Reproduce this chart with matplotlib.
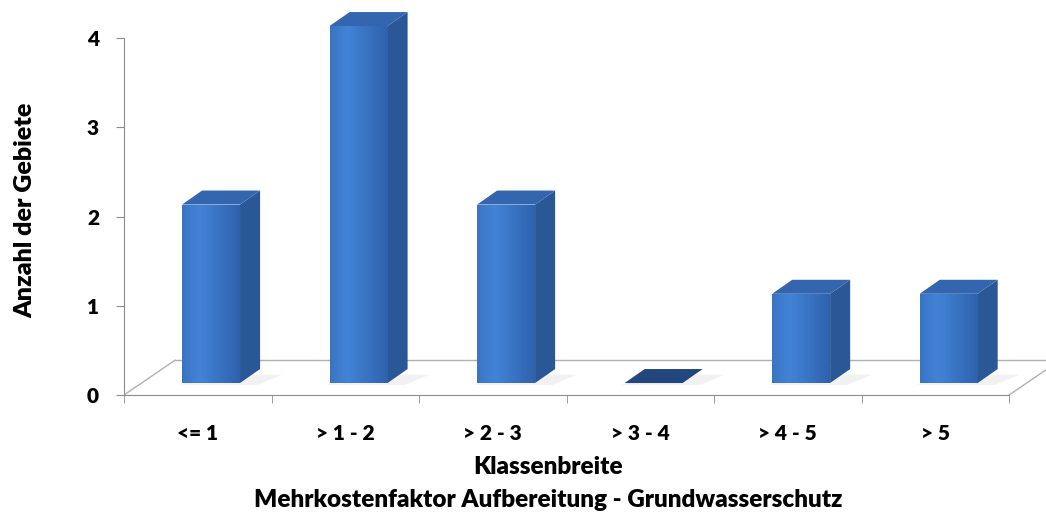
import numpy as np
import matplotlib.pyplot as plt
from matplotlib.patches import Polygon

# Chart data
categories = ["<= 1", "> 1 - 2", "> 2 - 3", "> 3 - 4", "> 4 - 5", "> 5"]
counts = [2, 4, 2, 0, 1, 1]

plt.rcParams['font.family'] = ['Lato', 'DejaVu Sans']

fig = plt.figure(figsize=(10.46, 5.2), dpi=100)
# axes placed so that y=0 sits on the front edge of the floor
ax = fig.add_axes([124 / 1046, 125 / 520, 922 / 1046, 395 / 520])
ax.set_xlim(-0.5, 5.75)
ax.set_ylim(0, 4.426)

# 3D look: floor depth and bar depth in data units
floor_dx, floor_dy = 0.346, 0.39
bar_off_x, bar_base = 0.09, 0.134
depth_dx, depth_dy = 0.136, 0.157
bar_w = 0.393

front_col = "#3a74c8"
side_col = "#2a5795"
top_col = "#3466b0"

# floor outline
n = len(categories)
floor_line = dict(color="#b0b0b0", lw=1.0, zorder=1)
ax.plot([-0.5, -0.5 + floor_dx], [0, floor_dy], **floor_line)
ax.plot([-0.5 + floor_dx, n - 0.5 + floor_dx + 0.5], [floor_dy, floor_dy], **floor_line)
ax.plot([n - 0.5, n - 0.5 + floor_dx], [0, floor_dy], **floor_line)

# light gradient for the front faces
grad = np.linspace(0, 1, 64)
grad = np.clip(1 - np.abs(grad - 0.3) * 1.3, 0, 1)[None, :]
cmap = plt.matplotlib.colors.LinearSegmentedColormap.from_list(
    "bar", ["#2f62ad", "#4283d6"])

for i, v in enumerate(counts):
    x0 = i - bar_w / 2 + bar_off_x
    x1 = x0 + bar_w
    y0 = bar_base
    y1 = bar_base + v

    # soft shadow on the floor
    ax.add_patch(Polygon([(x0 - 0.02, y0 - 0.02), (x1 + 0.12, y0 - 0.02),
                          (x1 + depth_dx + 0.15, y0 + depth_dy * 0.6),
                          (x0 + depth_dx, y0 + depth_dy * 0.6)],
                         closed=True, fc="#e2e2e2", ec="none", alpha=0.45, zorder=2))

    if v > 0:
        front = ax.bar(x0 + bar_w / 2, v, width=bar_w, bottom=y0,
                       color=front_col, edgecolor="none", zorder=3)[0]
        im = ax.imshow(grad, cmap=cmap, aspect="auto", extent=(x0, x1, y0, y1),
                       zorder=3.1, interpolation="bilinear")
        im.set_clip_path(front)
        side = Polygon([(x1, y0), (x1 + depth_dx, y0 + depth_dy),
                        (x1 + depth_dx, y1 + depth_dy), (x1, y1)],
                       closed=True, fc=side_col, ec="none", zorder=3)
        ax.add_patch(side)
        tcol = top_col
    else:
        tcol = "#23467e"
    top = Polygon([(x0, y1), (x0 + depth_dx, y1 + depth_dy),
                   (x1 + depth_dx, y1 + depth_dy), (x1, y1)],
                  closed=True, fc=tcol, ec="none", zorder=3.2)
    ax.add_patch(top)

# axes styling
for s in ["top", "right"]:
    ax.spines[s].set_visible(False)
ax.spines["left"].set_bounds(0, 4)
ax.spines["bottom"].set_bounds(-0.5, n - 0.5)
ax.spines["left"].set_color("#8c8c8c")
ax.spines["bottom"].set_color("#8c8c8c")

ax.set_yticks([0, 1, 2, 3, 4])
ax.tick_params(axis="y", length=6, color="#8c8c8c", labelsize=15, pad=12)
for lab in ax.get_yticklabels():
    lab.set_fontweight("heavy")

ax.set_xticks(np.arange(n))
ax.set_xticklabels(categories, fontsize=15, fontweight="heavy")
ax.set_xticks(np.arange(-0.5, n), minor=True)
ax.tick_params(axis="x", which="major", length=0, pad=21)
ax.tick_params(axis="x", which="minor", length=6, color="#8c8c8c")

fig.text(548 / 1046, 1 - 467 / 520, "Klassenbreite", ha="center", va="center",
         fontsize=17.5, fontweight="heavy")
fig.text(548 / 1046, 1 - 500 / 520, "Mehrkostenfaktor Aufbereitung - Grundwasserschutz",
         ha="center", va="center", fontsize=17.5, fontweight="heavy")
fig.text(25 / 1046, 1 - 210 / 520, "Anzahl der Gebiete", ha="center", va="center",
         rotation=90, fontsize=18, fontweight="heavy")

fig.savefig("out.png", dpi=100)
